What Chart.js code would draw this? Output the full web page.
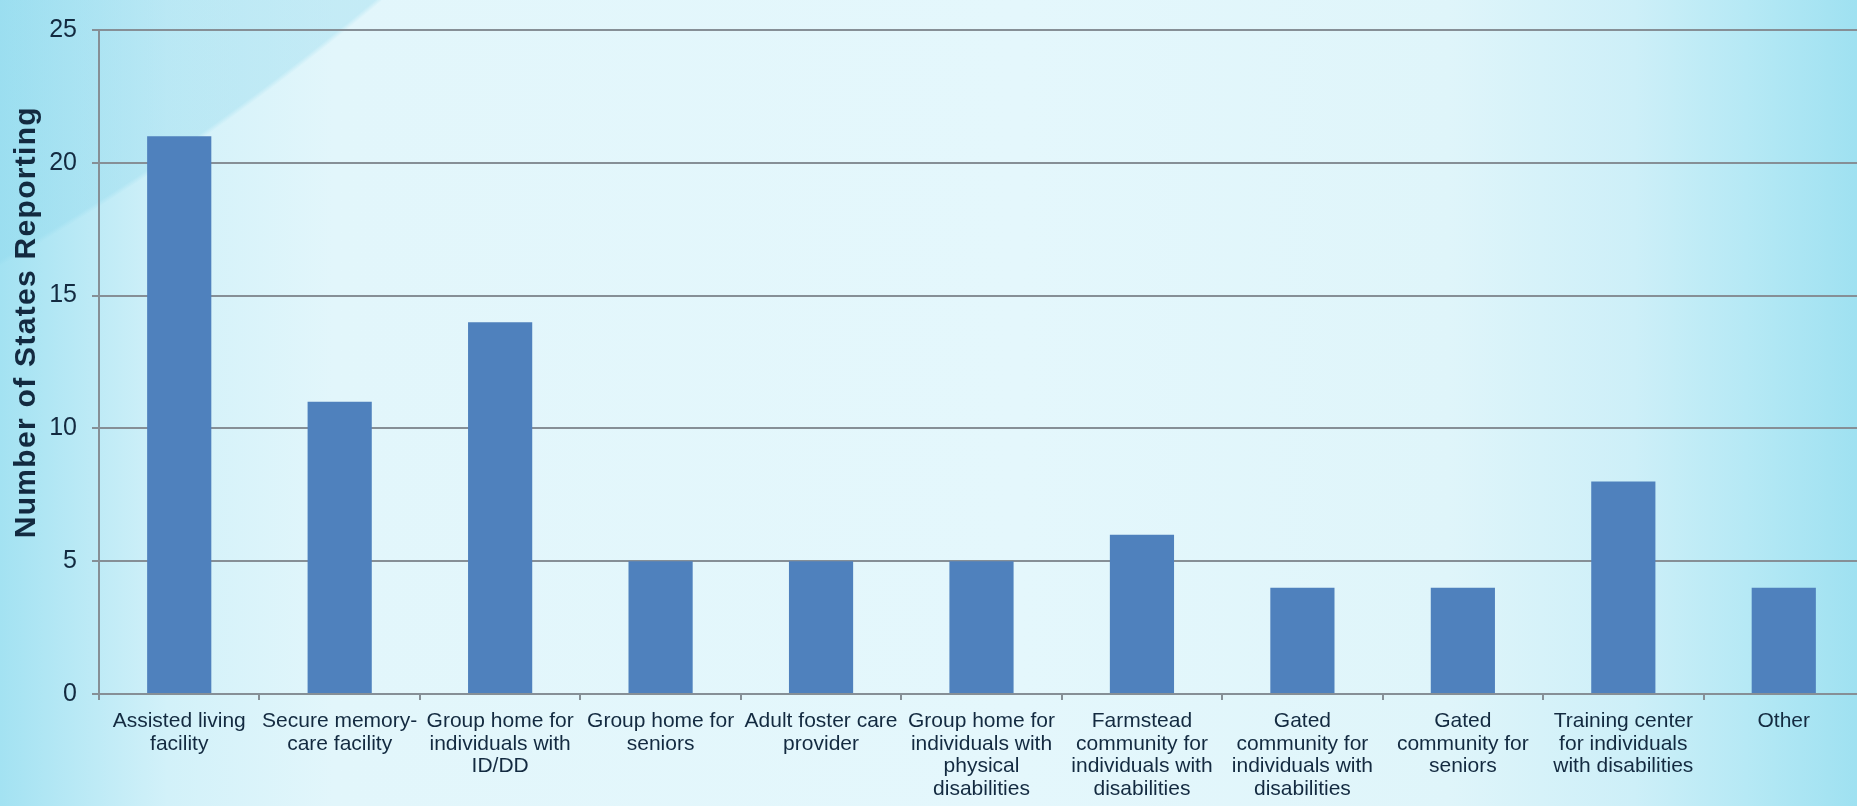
<!DOCTYPE html>
<html>
<head>
<meta charset="utf-8">
<script src="https://cdn.jsdelivr.net/npm/chart.js@4/dist/chart.umd.min.js"></script>
<style>
html, body {
    margin: 0;
    width: 100%;
    height: 100%;
    overflow: hidden;
}
body {
    background:
        radial-gradient(circle 2564px at -1262px -1960px, rgba(140, 215, 236, 0.35) 99.6%, rgba(140, 215, 236, 0) 99.8%),
        linear-gradient(to right, #a3e2f2 0%, #d2f1f9 9%, #e2f6fb 18%, #e4f7fc 55%, #dff5fa 78%, #cdeff8 88%, #b6e9f5 94%, #9fe1f1 100%);
}
#wrap {
    width: 1870px;
    height: 806px;
}
</style>
</head>
<body>
<div id="wrap"><canvas id="chart"></canvas></div>
<script>
var categories = [
    ["Assisted living", "facility"],
    ["Secure memory-", "care facility"],
    ["Group home for", "individuals with", "ID/DD"],
    ["Group home for", "seniors"],
    ["Adult foster care", "provider"],
    ["Group home for", "individuals with", "physical", "disabilities"],
    ["Farmstead", "community for", "individuals with", "disabilities"],
    ["Gated", "community for", "individuals with", "disabilities"],
    ["Gated", "community for", "seniors"],
    ["Training center", "for individuals", "with disabilities"],
    ["Other"]
];
var statesReporting = [21, 11, 14, 5, 5, 5, 6, 4, 4, 8, 4];
var yTicks = [0, 5, 10, 15, 20, 25];
var yTitle = "Number of States Reporting";

var textColor = '#132a40';
var gridColor = '#868f96';

// y title drawn by hand so it can sit a bit above the middle like the original
var yTitlePlugin = {
    id: 'yTitle',
    afterDraw: function (chart) {
        var c = chart.ctx;
        var area = chart.chartArea;
        c.save();
        c.translate(35, area.top + (area.bottom - area.top) * 0.44);
        c.rotate(-Math.PI / 2);
        c.font = 'bold 30px "Liberation Sans", Arial, sans-serif';
        c.letterSpacing = '1.3px';
        c.fillStyle = textColor;
        c.textAlign = 'center';
        c.textBaseline = 'alphabetic';
        c.fillText(yTitle, 0, 0);
        c.restore();
    }
};

var ctx = document.getElementById('chart').getContext('2d');

var chart = new Chart(ctx, {
    type: 'bar',
    data: {
        labels: categories,
        datasets: [{
            label: yTitle,
            data: statesReporting,
            backgroundColor: '#4f81bd',
            categoryPercentage: 1,
            barPercentage: 0.4
        }]
    },
    options: {
        responsive: true,
        maintainAspectRatio: false,
        animation: false,
        layout: {
            padding: { top: 19, right: 6, left: 0, bottom: 0 }
        },
        plugins: {
            legend: { display: false },
            tooltip: { enabled: false }
        },
        scales: {
            x: {
                afterFit: function (s) { s.height = 112; },
                grid: {
                    offset: true,
                    drawOnChartArea: false,
                    drawTicks: true,
                    tickLength: 6,
                    color: gridColor,
                    lineWidth: 2
                },
                border: { color: gridColor, width: 2 },
                ticks: {
                    color: textColor,
                    padding: 10,
                    maxRotation: 0,
                    autoSkip: false,
                    font: { family: '"Liberation Sans", Arial, sans-serif', size: 21, lineHeight: 1.08 }
                }
            },
            y: {
                min: 0,
                max: 25,
                afterFit: function (s) { s.width = 99; },
                afterBuildTicks: function (s) {
                    s.ticks = yTicks.map(function (v) { return { value: v }; });
                },
                grid: {
                    color: gridColor,
                    lineWidth: 2,
                    tickLength: 7
                },
                border: { color: gridColor, width: 2 },
                ticks: {
                    color: textColor,
                    padding: 15,
                    font: { family: '"Liberation Sans", Arial, sans-serif', size: 25 }
                }
            }
        }
    },
    plugins: [yTitlePlugin]
});
</script>
</body>
</html>
